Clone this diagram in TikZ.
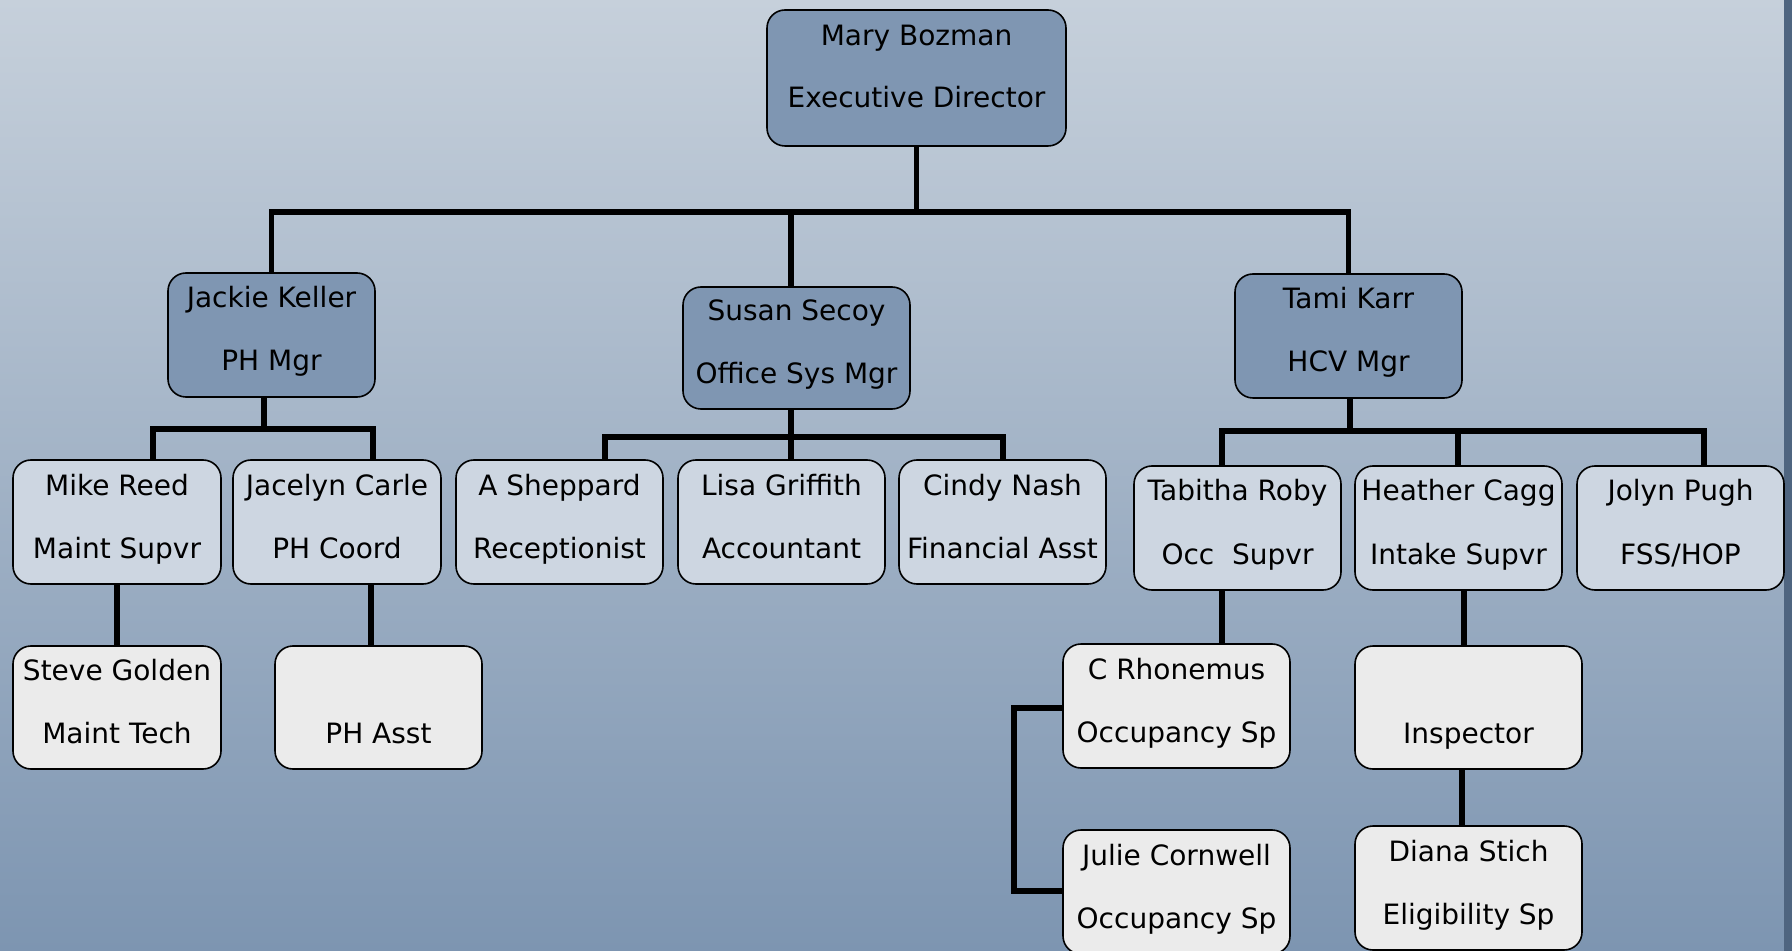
\documentclass[tikz,border=0pt]{standalone}
\usepackage{fontspec}
\setmainfont{DejaVu Sans}
\definecolor{bgtop}{HTML}{C6D0DB}
\definecolor{bgbot}{HTML}{7D95B1}
\definecolor{strip}{HTML}{4F6580}
\definecolor{mgrfill}{HTML}{7F96B2}
\definecolor{stafffill}{HTML}{CDD6E1}
\definecolor{asstfill}{HTML}{EBEBEB}
\tikzset{
  lbl/.style={inner sep=0pt,text height=0pt,text depth=0pt,font=\fontsize{14pt}{17pt}\selectfont,text=black},
  txt/.style n args={2}{label={[lbl,yshift=13.5pt]center:{#1}},label={[lbl,yshift=-18pt]center:{#2}}},
  toptxt/.style n args={2}{label={[lbl,yshift=16pt]center:{#1}},label={[lbl,yshift=-14.8pt]center:{#2}}},
  base/.style={draw=black,line width=0.8pt,rounded corners=9pt,inner sep=0pt},
  mgr/.style={base,fill=mgrfill},
  staff/.style={base,fill=stafffill},
  asst/.style={base,fill=asstfill},
  conn/.style={line width=2.6pt,draw=black}}
\begin{document}
\begin{tikzpicture}[x=0.5pt,y=-0.5pt]
\useasboundingbox (0,0) rectangle (1792,951);
\clip (0,0) rectangle (1792,951);
\fill[top color=bgtop,bottom color=bgbot] (0,0) rectangle (1792,951);
\fill[strip] (1784,0) rectangle (1792,951);

% level 1
\node[mgr,minimum width=149.5pt,minimum height=68pt,toptxt={Mary Bozman}{Executive Director}] (mary) at (916.5,78) {};
% level 2
\node[mgr,minimum width=103.5pt,minimum height=62pt,txt={Jackie Keller}{PH Mgr}] (jackie) at (271.5,335) {};
\node[mgr,minimum width=113.5pt,minimum height=61pt,txt={Susan Secoy}{Office Sys Mgr}] (susan) at (796.5,348) {};
\node[mgr,minimum width=113.5pt,minimum height=62pt,txt={Tami Karr}{HCV Mgr}] (tami) at (1348.5,336) {};
% level 3
\node[staff,minimum width=104pt,minimum height=62pt,txt={Mike Reed}{Maint Supvr}] (mike) at (117,522) {};
\node[staff,minimum width=104pt,minimum height=62pt,txt={Jacelyn Carle}{PH Coord}] (jacelyn) at (337,522) {};
\node[staff,minimum width=103.5pt,minimum height=62pt,txt={A Sheppard}{Receptionist}] (sheppard) at (559.5,522) {};
\node[staff,minimum width=103.5pt,minimum height=62pt,txt={Lisa Griffith}{Accountant}] (lisa) at (781.5,522) {};
\node[staff,minimum width=103.5pt,minimum height=62pt,txt={Cindy Nash}{Financial Asst}] (cindy) at (1002.5,522) {};
\node[staff,minimum width=103.5pt,minimum height=62pt,txt={Tabitha Roby}{Occ\ \ Supvr}] (tabitha) at (1237.5,528) {};
\node[staff,minimum width=103.5pt,minimum height=62pt,txt={Heather Cagg}{Intake Supvr}] (heather) at (1458.5,528) {};
\node[staff,minimum width=103.5pt,minimum height=62pt,txt={Jolyn Pugh}{FSS/HOP}] (jolyn) at (1680.5,528) {};
% level 4
\node[asst,minimum width=104pt,minimum height=61.5pt,txt={Steve Golden}{Maint Tech}] (steve) at (117,707.5) {};
\node[asst,minimum width=103.5pt,minimum height=61.5pt,label={[lbl,yshift=-18pt]center:{PH Asst}}] (phasst) at (378.5,707.5) {};
\node[asst,minimum width=113.5pt,minimum height=62pt,txt={C Rhonemus}{Occupancy Sp}] (rhonemus) at (1176.5,706) {};
\node[asst,minimum width=113.5pt,minimum height=62pt,txt={Julie Cornwell}{Occupancy Sp}] (julie) at (1176.5,892) {};
\node[asst,minimum width=113.5pt,minimum height=61.5pt,label={[lbl,yshift=-18pt]center:{Inspector}}] (inspector) at (1468.5,707.5) {};
\node[asst,minimum width=113.5pt,minimum height=62pt,txt={Diana Stich}{Eligibility Sp}] (diana) at (1468.5,888) {};

% connectors
\coordinate (b0) at (917,212);
\coordinate (sx) at (791,0);
\coordinate (b1) at (264,429);
\coordinate (b2) at (791,437);
\coordinate (b3) at (1350,431);
\coordinate (k) at (1014,800);
\coordinate (stx) at (117,0);
\coordinate (phx) at (371,0);
\coordinate (tbx) at (1222,0);
\coordinate (hx) at (1464,0);
\coordinate (ix) at (1462,0);

\draw[conn] (mary.south) -- (mary.south |- b0);
\draw[conn] (jackie.north) |- (b0) -| (tami.north);
\draw[conn] (susan.north -| sx) -- (sx |- b0);

\draw[conn] (jackie.south -| b1) -- (b1);
\draw[conn] (mike.north -| 153,0) |- (b1) -| (jacelyn.north -| 373,0);

\draw[conn] (susan.south -| b2) -- (lisa.north -| b2);
\draw[conn] (sheppard.north -| 605,0) |- (b2) -| (cindy.north -| 1003,0);

\draw[conn] (tami.south -| b3) -- (b3);
\draw[conn] (tabitha.north -| tbx) |- (b3) -| (jolyn.north -| 1704,0);
\draw[conn] (heather.north -| 1458,0) -- (1458,431);

\draw[conn] (mike.south -| stx) -- (steve.north -| stx);
\draw[conn] (jacelyn.south -| phx) -- (phasst.north -| phx);
\draw[conn] (tabitha.south -| tbx) -- (rhonemus.north -| tbx);
\draw[conn] (heather.south -| hx) -- (inspector.north -| hx);
\draw[conn] (inspector.south -| ix) -- (diana.north -| ix);
\draw[conn] (rhonemus.west |- 0,708) -| (k) |- (julie.west |- 0,891);
\end{tikzpicture}
\end{document}
